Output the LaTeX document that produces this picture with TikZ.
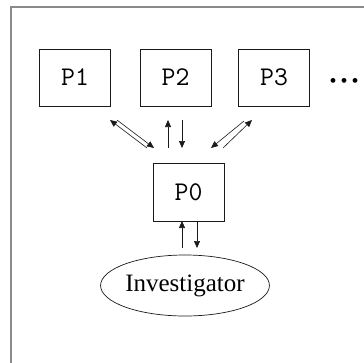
\documentclass[tikz,border=0pt]{standalone}
\usepackage{fontspec}
\setmainfont{Liberation Serif}
\usetikzlibrary{shapes.geometric,arrows.meta}
\definecolor{framegray}{HTML}{8A8A8A}
\definecolor{ink}{HTML}{1A1A1A}
\tikzset{
  pbox/.style={draw=ink, line width=0.9pt, minimum width=71pt, minimum height=57pt, inner sep=0pt, font=\ttfamily\fontsize{27}{27}\selectfont},
  conn/.style={draw=ink, line width=0.6pt, -{Triangle[length=7pt,width=6pt]}},
}
\begin{document}
\begin{tikzpicture}[x=1pt,y=-1pt]
\useasboundingbox (0,0) rectangle (364,362);
% outer frame (continues beyond the image)
\draw[framegray, line width=1.2pt] (11,380) -- (11,7) -- (380,7);
\node[pbox] (P1) at (75,77.5) {P1};
\node[pbox] (P2) at (175.5,77.5) {P2};
\node[pbox] (P3) at (274,77.5) {P3};
\node[inner sep=0pt, font=\fontsize{20}{20}\selectfont\rmfamily] (dots) at (344,83) {\textbullet\hspace{4pt}\textbullet\hspace{4pt}\textbullet};
\node[pbox, minimum height=58pt] (P0) at (188.5,192) {P0};
\node[draw=ink, line width=0.7pt, ellipse, minimum width=168pt, minimum height=61pt, inner sep=0pt, font=\fontsize{25}{25}\selectfont] (inv) at (185,285.5) {Investigator};
% arrow end points
\coordinate (a1) at (110,120); \coordinate (a2) at (147,148);
\coordinate (b1) at (117,120); \coordinate (b2) at (154,148);
\coordinate (c1) at (168,148); \coordinate (c2) at (168,120);
\coordinate (d1) at (182,120); \coordinate (d2) at (182,148);
\coordinate (e1) at (244,121); \coordinate (e2) at (211,148);
\coordinate (f1) at (223,148); \coordinate (f2) at (252,120);
\coordinate (g1) at (182,248); \coordinate (g2) at (182,221);
\coordinate (h1) at (197,221); \coordinate (h2) at (197,248);
\draw[conn] (a2) -- (a1);
\draw[conn] (b1) -- (b2);
\draw[conn] (c1) -- (c2);
\draw[conn] (d1) -- (d2);
\draw[conn] (e1) -- (e2);
\draw[conn] (f1) -- (f2);
\draw[conn] (g1) -- (g2);
\draw[conn] (h1) -- (h2);
\end{tikzpicture}
\end{document}
